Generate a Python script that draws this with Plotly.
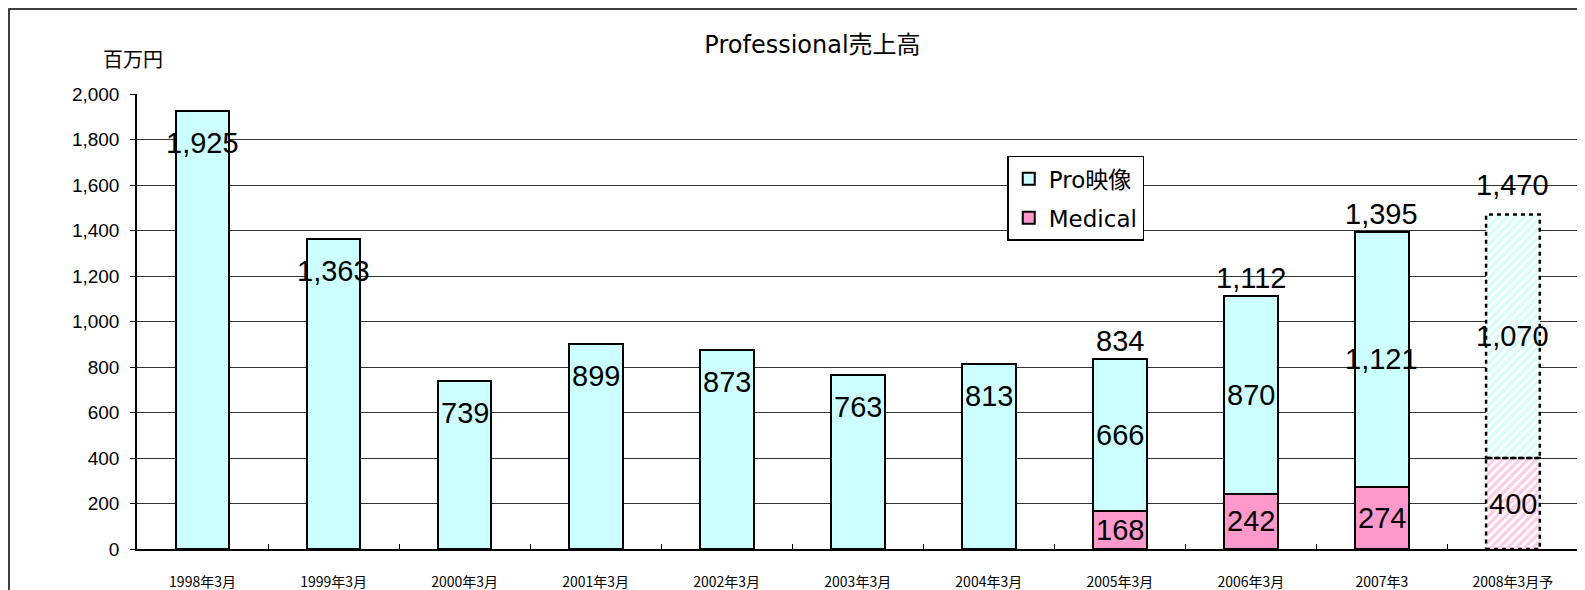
import plotly.graph_objects as go

categories = ["1998年3月", "1999年3月", "2000年3月", "2001年3月", "2002年3月", "2003年3月",
              "2004年3月", "2005年3月", "2006年3月", "2007年3", "2008年3月予"]
pro = [1925, 1363, 739, 899, 873, 763, 813, 666, 870, 1121, 1070]
medical = [None, None, None, None, None, None, None, 168, 242, 274, 400]
totals = [None, None, None, None, None, None, None, 834, 1112, 1395, 1470]
forecast_idx = 10

PRO_C = "#CCFFFF"
MED_C = "#FF99CC"
BAR_W = 0.41
NUM_FONT = "Liberation Sans, Arial, sans-serif"
JP_FONT = "Noto Sans CJK JP, Noto Sans, sans-serif"
MIX_FONT = "DejaVu Sans, Noto Sans CJK JP, sans-serif"

act_x = categories[:forecast_idx]
fx = [categories[forecast_idx]]

fig = go.Figure()
fig.add_trace(go.Bar(x=act_x, y=medical[:forecast_idx], name="Medical", width=BAR_W,
                     legendgroup="med", legendrank=2,
                     marker=dict(color=MED_C, line=dict(color="black", width=2))))
fig.add_trace(go.Bar(x=fx, y=[medical[forecast_idx]], name="Medical", width=BAR_W, showlegend=False,
                     legendgroup="med", legendrank=2,
                     marker=dict(color="white", line=dict(width=0),
                                 pattern=dict(shape="/", fgcolor=MED_C, bgcolor="white",
                                              size=6, solidity=0.55, fillmode="overlay"))))
fig.add_trace(go.Bar(x=act_x, y=pro[:forecast_idx], name="Pro映像", width=BAR_W,
                     legendgroup="pro", legendrank=1,
                     marker=dict(color=PRO_C, line=dict(color="black", width=2))))
fig.add_trace(go.Bar(x=fx, y=[pro[forecast_idx]], name="Pro映像", width=BAR_W, showlegend=False,
                     legendgroup="pro", legendrank=1,
                     marker=dict(color="white", line=dict(width=0),
                                 pattern=dict(shape="/", fgcolor="#B8F8F8", bgcolor="white",
                                              size=6, solidity=0.6, fillmode="overlay"))))

# dashed outline of forecast segments
m = medical[forecast_idx]
t = totals[forecast_idx]
for y0, y1 in [(0, m), (m, t)]:
    fig.add_shape(type="rect", xref="x", yref="y",
                  x0=forecast_idx - BAR_W / 2, x1=forecast_idx + BAR_W / 2, y0=y0, y1=y1,
                  line=dict(color="black", width=2.5, dash="4px,4px"), layer="above")

lab_font = dict(size=29, family=NUM_FONT, color="black")
annotations = []
for i, c in enumerate(categories):
    md = medical[i]
    if md is None:
        annotations.append(dict(x=c, y=pro[i], yshift=-32, text=f"{pro[i]:,}", showarrow=False,
                                yanchor="middle", font=lab_font))
    else:
        annotations.append(dict(x=c, y=md / 2, text=f"{md:,}", showarrow=False,
                                yanchor="middle", font=lab_font))
        annotations.append(dict(x=c, y=md + pro[i] / 2, text=f"{pro[i]:,}", showarrow=False,
                                yanchor="middle", font=lab_font))
        annotations.append(dict(x=c, y=totals[i], yshift=30 if i == forecast_idx else 18,
                                text=f"{totals[i]:,}", showarrow=False,
                                yanchor="middle", font=lab_font))

annotations.append(dict(xref="paper", yref="paper", x=-0.0028, y=1.079, text="百万円", showarrow=False,
                        xanchor="center", yanchor="middle", font=dict(size=20, family=JP_FONT, color="black")))

# outer chart border
fig.add_shape(type="rect", xref="paper", yref="paper", x0=-0.0884, x1=1.2, y0=-0.3, y1=1.187,
              line=dict(color="black", width=1.5), layer="below")

fig.update_layout(
    width=1577, height=582,
    margin=dict(l=129, r=0, t=86, b=41),
    barmode="stack",
    plot_bgcolor="white", paper_bgcolor="white",
    title=dict(text="Professional売上高", x=0.4665, xref="paper", xanchor="center",
               y=0.9364, yref="container", yanchor="middle",
               font=dict(size=24, family=MIX_FONT, color="black")),
    legend=dict(x=0.601, y=0.864, xanchor="left", yanchor="top", traceorder="grouped",
                bgcolor="white", bordercolor="black", borderwidth=1.5,
                font=dict(size=23, family=MIX_FONT, color="black"),
                entrywidth=128, entrywidthmode="pixels",
                tracegroupgap=6),
    annotations=annotations,
    showlegend=True,
)
fig.update_xaxes(type="category", range=[-0.5, 10.55], showgrid=False,
                 showline=True, linecolor="black", linewidth=2,
                 ticks="inside", tickson="boundaries", ticklen=5, tickcolor="black",
                 ticklabelstandoff=19,
                 tickfont=dict(size=14, family=JP_FONT, color="black"))
fig.update_yaxes(range=[0, 2000], dtick=200, tickformat=",d",
                 showgrid=True, gridcolor="#333333", gridwidth=1,
                 showline=True, linecolor="black", linewidth=1.5, zeroline=False,
                 ticks="outside", ticklen=5, tickcolor="black", ticklabelstandoff=7,
                 tickfont=dict(size=19, family=NUM_FONT, color="black"))

fig.write_html("out.html")
